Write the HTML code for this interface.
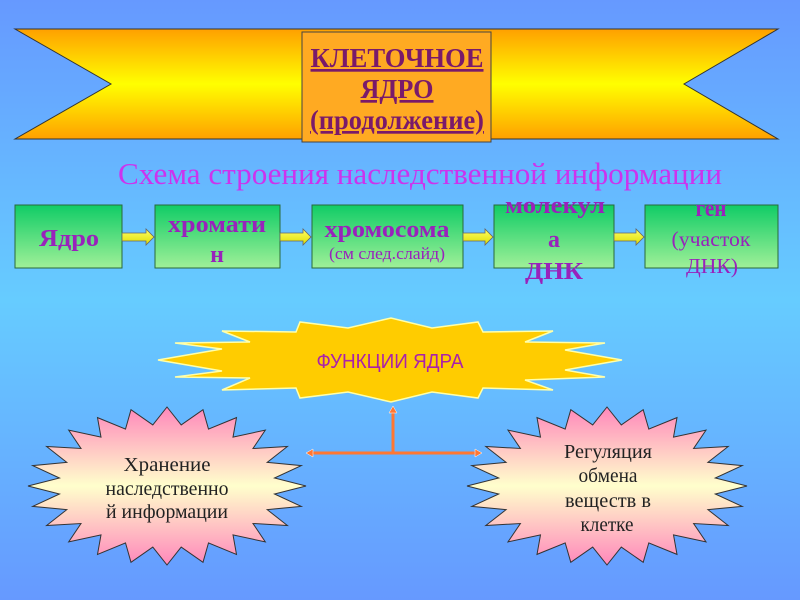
<!DOCTYPE html>
<html><head><meta charset="utf-8"><style>
html,body{margin:0;padding:0}
body{width:800px;height:600px;overflow:hidden;background:linear-gradient(#6699ff 0%,#66ccff 50%,#6699ff 100%);font-family:"Liberation Serif",serif}
svg{position:absolute;left:0;top:0}
</style></head><body>
<svg width="800" height="600" viewBox="0 0 800 600" xmlns="http://www.w3.org/2000/svg">
<defs>
<linearGradient id="rib" x1="0" y1="0" x2="0" y2="1">
<stop offset="0" stop-color="#ffa000"/><stop offset="0.5" stop-color="#ffff00"/><stop offset="1" stop-color="#ffa000"/></linearGradient>
<linearGradient id="box" x1="0" y1="0" x2="0" y2="1">
<stop offset="0" stop-color="#10cc66"/><stop offset="1" stop-color="#a0f098"/></linearGradient>
<linearGradient id="pink" x1="0" y1="0" x2="0" y2="1">
<stop offset="0" stop-color="#ff88bb"/><stop offset="0.5" stop-color="#ffffcc"/><stop offset="1" stop-color="#ff88bb"/></linearGradient>
<linearGradient id="arr" x1="0" y1="0" x2="0" y2="1">
<stop offset="0" stop-color="#ffff66"/><stop offset="1" stop-color="#dddd00"/></linearGradient>
</defs>
<polygon points="15,29 778,29 684,84 778,139 15,139 111,84" fill="url(#rib)" stroke="#333" stroke-width="1"/>
<rect x="302" y="32" width="189" height="110" fill="#ffaa22" stroke="#444" stroke-width="1"/>
<g font-family="Liberation Serif,serif" font-weight="bold" font-size="27" fill="#7a1a6a" text-anchor="middle" lengthAdjust="spacingAndGlyphs">
<text x="397" y="67" textLength="173" lengthAdjust="spacingAndGlyphs" text-decoration="underline">КЛЕТОЧНОЕ</text>
<text x="397" y="98" textLength="73" lengthAdjust="spacingAndGlyphs" text-decoration="underline">ЯДРО</text>
<text x="397" y="129" textLength="174" lengthAdjust="spacingAndGlyphs" text-decoration="underline">(продолжение)</text>
</g>
<text x="420" y="184" text-anchor="middle" font-size="31" fill="#cc33ee" font-family="Liberation Serif,serif" textLength="604" lengthAdjust="spacingAndGlyphs">Схема строения наследственной информации</text>
<g stroke="#2a6a3a" stroke-width="1" fill="url(#box)">
<rect x="15" y="205" width="107" height="63"/>
<rect x="155" y="205" width="125" height="63"/>
<rect x="312" y="205" width="151" height="63"/>
<rect x="494" y="205" width="120" height="63"/>
<rect x="645" y="205" width="133" height="63"/>
</g>
<g fill="url(#arr)" stroke="#666" stroke-width="0.8">
<polygon points="122,233 146,233 146,229 154,237 146,245 146,241 122,241"/>
<polygon points="280,233 303,233 303,229 311,237 303,245 303,241 280,241"/>
<polygon points="463,233 485,233 485,229 493,237 485,245 485,241 463,241"/>
<polygon points="614,233 636,233 636,229 644,237 636,245 636,241 614,241"/>
</g>
<g font-family="Liberation Serif,serif" font-weight="bold" font-size="24" fill="#9922bb" text-anchor="middle">
<text x="69" y="246" textLength="60" lengthAdjust="spacingAndGlyphs">Ядро</text>
<text x="217" y="232" textLength="98" lengthAdjust="spacingAndGlyphs">хромати</text>
<text x="217" y="262">н</text>
<text x="387" y="237" textLength="125" lengthAdjust="spacingAndGlyphs">хромосома</text>
<text x="555" y="213" textLength="100" lengthAdjust="spacingAndGlyphs">молекул</text>
<text x="554" y="247">а</text>
<text x="554" y="279" textLength="58" lengthAdjust="spacingAndGlyphs">ДНК</text>
<text x="711" y="216" textLength="31" lengthAdjust="spacingAndGlyphs">ген</text>
</g>
<g font-family="Liberation Serif,serif" font-size="17" fill="#9922bb" text-anchor="middle">
<text x="387" y="259" textLength="116" lengthAdjust="spacingAndGlyphs">(см след.слайд)</text>
</g>
<g font-family="Liberation Serif,serif" font-size="21" fill="#9922bb" text-anchor="middle">
<text x="711" y="246" textLength="79" lengthAdjust="spacingAndGlyphs">(участок</text>
<text x="712" y="273" textLength="52" lengthAdjust="spacingAndGlyphs">ДНК)</text>
</g>
<polygon points="158,360 222,349 175,343 250,342 222,331 296,332 300,322 348,328 391,318 432,328 478,322 483,332 553,331 525,342 605,343 565,350 622,360 565,370 605,377 525,380 553,390 483,388 478,398 432,392 391,402 348,392 300,398 296,388 222,390 250,378 175,377 222,371" fill="#ffcc00" stroke="#ffffaa" stroke-width="1.5"/>
<text x="390" y="368" text-anchor="middle" font-family="Liberation Sans,sans-serif" font-size="20" fill="#aa22aa" textLength="147" lengthAdjust="spacingAndGlyphs">ФУНКЦИИ ЯДРА</text>
<polygon id="s1" fill="url(#pink)" stroke="#333" stroke-width="1"/>
<polygon id="s2" fill="url(#pink)" stroke="#333" stroke-width="1"/>
<g font-family="Liberation Serif,serif" font-size="20" fill="#222" text-anchor="middle">
<text x="167" y="471" textLength="87" lengthAdjust="spacingAndGlyphs">Хранение</text>
<text x="167" y="495" textLength="123" lengthAdjust="spacingAndGlyphs">наследственно</text>
<text x="167" y="518" textLength="122" lengthAdjust="spacingAndGlyphs">й информации</text>
<text x="608" y="458" textLength="88" lengthAdjust="spacingAndGlyphs">Регуляция</text>
<text x="608" y="482" textLength="59" lengthAdjust="spacingAndGlyphs">обмена</text>
<text x="608" y="507" textLength="86" lengthAdjust="spacingAndGlyphs">веществ в</text>
<text x="607" y="531" textLength="53" lengthAdjust="spacingAndGlyphs">клетке</text>
</g>
<g stroke="#ff7733" stroke-width="3" fill="none">
<line x1="393" y1="412" x2="393" y2="453"/>
<line x1="312" y1="453" x2="476" y2="453"/>
</g>
<g fill="#ff7733" stroke="#fff" stroke-width="0.5">
<polygon points="393,406 389,413 397,413"/>
<polygon points="306,453 313,449 313,457"/>
<polygon points="482,453 475,449 475,457"/>
</g>
</svg>
<script>
function star(id,cx,cy,rx,ry,n,inner){
 var p=[];for(var i=0;i<2*n;i++){var a=Math.PI*i/n-Math.PI/2;var r=(i%2==0)?1:inner;
 p.push((cx+rx*r*Math.cos(a)).toFixed(1)+","+(cy+ry*r*Math.sin(a)).toFixed(1));}
 document.getElementById(id).setAttribute("points",p.join(" "));}
star("s1",167,486,139,79,24,0.78);
star("s2",607,486,140,79,24,0.78);
</script>
</body></html>
